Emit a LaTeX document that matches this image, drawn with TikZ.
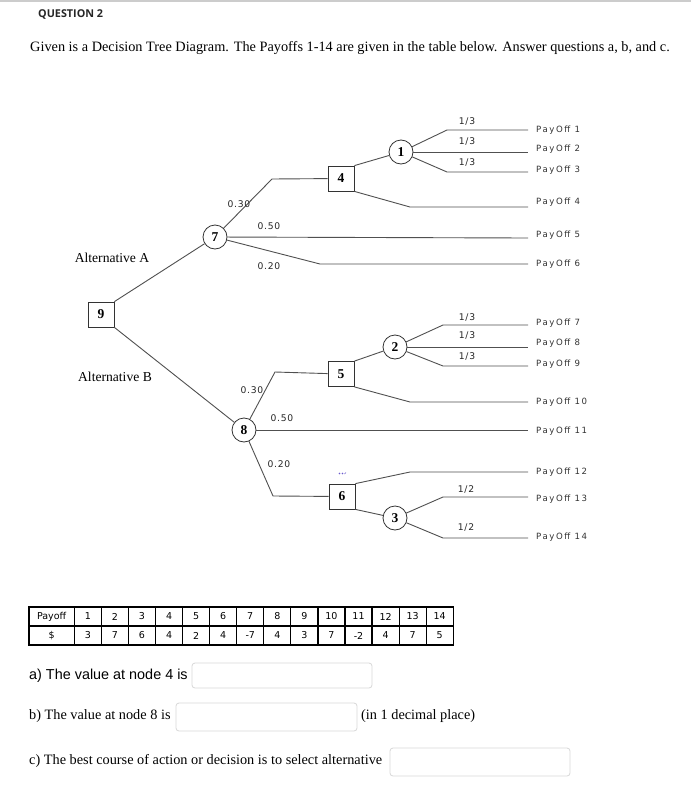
\documentclass[tikz,border=0pt]{standalone}
\usepackage{fontspec}
\setmainfont{Liberation Serif}
\newfontfamily\arialf{Liberation Sans}
\newfontfamily\qfont{Open Sans}
\newfontfamily\payf[LetterSpace=18]{DejaVu Sans}
\newfontfamily\probf[LetterSpace=8]{DejaVu Sans}
\newfontfamily\tabf{DejaVu Sans}
\definecolor{linec}{HTML}{505050}
\definecolor{boxc}{HTML}{D8D8D8}
\definecolor{dotc}{HTML}{6A5ACD}
\begin{document}
\begin{tikzpicture}[x=1pt,y=-1pt,
  br/.style={draw=linec,line width=0.9pt},
  dnode/.style={draw=black!80,line width=0.8pt,fill=white,minimum width=26pt,minimum height=25pt,inner sep=0pt,font=\fontsize{13.5}{13.5}\selectfont\bfseries},
  cnode/.style={draw=black!80,line width=0.8pt,fill=white,circle,minimum size=24pt,inner sep=0pt,font=\fontsize{13.5}{13.5}\selectfont\bfseries},
  pay/.style={anchor=west,inner sep=0pt,text=black!80,font=\payf\fontsize{8.6}{9}\selectfont},
  prob/.style={inner sep=0pt,text=black!85,font=\probf\fontsize{9.2}{10}\selectfont},
  alt/.style={inner sep=0pt,font=\fontsize{13.6}{14}\selectfont},
  cell/.style={inner sep=0pt,font=\tabf\fontsize{9.5}{10}\selectfont},
  ansbox/.style={draw=boxc,line width=0.8pt,rounded corners=3pt,fill=white},
  body/.style={anchor=west,inner sep=0pt,font=\fontsize{14.3}{15}\selectfont}]
\useasboundingbox (0,0) rectangle (691,803);
\fill[white] (0,0) rectangle (691,803);
\fill[black!20] (0,0) rectangle (691,2);
% header
\node[anchor=west,inner sep=0pt,text=black!85,font=\qfont\bfseries\fontsize{10.8}{11}\selectfont] (q) at (38,15) {QUESTION 2};
\node[body] (intro) at (30,48) {Given is a Decision Tree Diagram. The Payoffs 1-14 are given in the table below. Answer questions a, b, and c.};
% nodes
\node[dnode] (n9) at (101,314.5) {9};
\node[cnode] (n7) at (215,237) {7};
\node[dnode] (n4) at (341,178.5) {4};
\node[cnode] (n1) at (401,152) {1};
\node[cnode] (n8) at (244,430) {8};
\node[dnode] (n5) at (341,374) {5};
\node[cnode] (n2) at (395,347) {2};
\node[dnode] (n6) at (342,496.5) {6};
\node[cnode] (n3) at (395,518) {3};
% corner coordinates
\coordinate (a1) at (272,179);
\coordinate (a3) at (320,264);
\coordinate (e5) at (528,238);
\coordinate (e6) at (528,264);
\coordinate (b1) at (447,130); \coordinate (e1) at (528,130);
\coordinate (e2) at (528,152);
\coordinate (b3) at (447,172); \coordinate (e3) at (528,172);
\coordinate (b4) at (410,207); \coordinate (e4) at (528,207);
\coordinate (c1) at (275,372);
\coordinate (c3) at (273,496);
\coordinate (e11) at (528,430);
\coordinate (d7) at (443,325); \coordinate (e7) at (528,325);
\coordinate (e8) at (528,347);
\coordinate (d9) at (443,366); \coordinate (e9) at (528,366);
\coordinate (d10) at (410,402); \coordinate (e10) at (528,402);
\coordinate (d12) at (410,472); \coordinate (e12) at (528,472);
\coordinate (d13) at (443,497); \coordinate (e13) at (528,497);
\coordinate (d14) at (443,538); \coordinate (e14) at (528,538);
% branches
\draw[br] (n9.north east) -- (n7);
\draw[br] (n7) -- (a1) -- (n4);
\draw[br] (n7) -- (e5);
\draw[br] (n7) -- (a3) -- (e6);
\draw[br] (n4.north east) -- (n1);
\draw[br] (n1) -- (b1) -- (e1);
\draw[br] (n1) -- (e2);
\draw[br] (n1) -- (b3) -- (e3);
\draw[br] (n4.south east) -- (b4) -- (e4);
\draw[br] (n9.south east) -- (n8);
\draw[br] (n8) -- (c1) -- (n5);
\draw[br] (n8) -- (e11);
\draw[br] (n8) -- (c3) -- (n6);
\draw[br] (n5.north east) -- (n2);
\draw[br] (n2) -- (d7) -- (e7);
\draw[br] (n2) -- (e8);
\draw[br] (n2) -- (d9) -- (e9);
\draw[br] (n5.south east) -- (d10) -- (e10);
\draw[br] (n6.north east) -- (d12) -- (e12);
\draw[br] (n6.south east) -- (n3);
\draw[br] (n3) -- (d13) -- (e13);
\draw[br] (n3) -- (d14) -- (e14);
% labels
\node[alt] (altA) at (112,258) {Alternative A};
\node[alt] (altB) at (115,377) {Alternative B};
\node[prob] (pA1) at (239,204) {0.30};
\node[prob] (pA2) at (269,226) {0.50};
\node[prob] (pA3) at (269,266) {0.20};
\node[prob] (q1) at (467,122) {1/3};
\node[prob] (q2) at (467,142) {1/3};
\node[prob] (q3) at (467,163) {1/3};
\node[prob] (pB1) at (252,390) {0.30};
\node[prob] (pB2) at (282,418) {0.50};
\node[prob] (pB3) at (279,464) {0.20};
\node[prob] (q7) at (467,318) {1/3};
\node[prob] (q8) at (467,336) {1/3};
\node[prob] (q9) at (467,357) {1/3};
\node[prob] (h13) at (466,490) {1/2};
\node[prob] (h14) at (466,528) {1/2};
\node[pay] (p1) at (536,130) {PayOff 1};
\node[pay] (p2) at (536,149.5) {PayOff 2};
\node[pay] (p3) at (536,170.5) {PayOff 3};
\node[pay] (p4) at (536,202) {PayOff 4};
\node[pay] (p5) at (536,235) {PayOff 5};
\node[pay] (p6) at (536,264) {PayOff 6};
\node[pay] (p7) at (536,323) {PayOff 7};
\node[pay] (p8) at (536,343) {PayOff 8};
\node[pay] (p9) at (536,364) {PayOff 9};
\node[pay] (p10) at (536,402) {PayOff 10};
\node[pay] (p11) at (536,431) {PayOff 11};
\node[pay] (p12) at (536,472) {PayOff 12};
\node[pay] (p13) at (536,499) {PayOff 13};
\node[pay] (p14) at (536,537) {PayOff 14};
% stray marks above node 6
\fill[dotc] (339.5,473.5) circle (0.8pt);
\fill[dotc] (342.5,473.5) circle (0.8pt);
\draw[dotc,line width=0.5pt] (344.5,474) -- (346,472.5);
% table
\draw[black,line width=1.2pt] (29,607) rectangle (453.3,645);
\draw[black,line width=1.2pt] (29,626) -- (453.3,626);
\draw[black,line width=1.2pt] (74.3,607) -- (74.3,645);
\foreach \i in {1,...,13}{
  \draw[black,line width=1.2pt] ({74.3+27.07*\i},607) -- ({74.3+27.07*\i},645);
}
\node[cell] (th) at (51.6,616.5) {Payoff};
\node[cell] (td) at (51.6,635.5) {\$};
\foreach \v [count=\i] in {3,7,6,4,2,4,-7,4,3,7,-2,4,7,5}{
  \node[cell] (hc\i) at ({74.3+27.07*(\i-0.5)},616.5) {\i};
  \node[cell] (vc\i) at ({74.3+27.07*(\i-0.5)},635.5) {\v};
}
% questions
\node[anchor=west,inner sep=0pt,font=\arialf\fontsize{14.4}{15}\selectfont] (qa) at (29,675.5) {a) The value at node 4 is};
\draw[ansbox] (192,663) rectangle (372,688);
\node[body] (qb) at (29,716.5) {b) The value at node 8 is};
\draw[ansbox] (176,703) rectangle (357,731);
\node[body] (qbn) at (361,716.5) {(in 1 decimal place)};
\node[body] (qc) at (29,761) {c) The best course of action or decision is to select alternative};
\draw[ansbox] (390,748) rectangle (570,776);
\end{tikzpicture}
\end{document}
